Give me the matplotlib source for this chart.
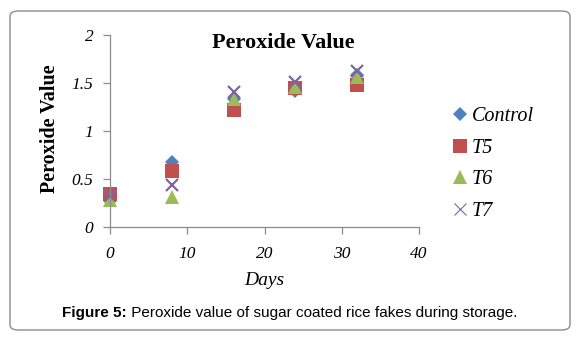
import matplotlib
matplotlib.use("Agg")
import matplotlib.pyplot as plt
from matplotlib.patches import FancyBboxPatch
from matplotlib.lines import Line2D

days = [0, 8, 16, 24, 32]
control = [0.33, 0.68, 1.33, 1.42, 1.58]
t5 = [0.34, 0.58, 1.22, 1.45, 1.48]
t6 = [0.28, 0.31, 1.33, 1.46, 1.56]
t7 = [0.32, 0.44, 1.41, 1.51, 1.63]
series_names = ["Control", "T5", "T6", "T7"]
x_ticks = [0, 10, 20, 30, 40]
y_ticks = [0, 0.5, 1, 1.5, 2]
y_tick_labels = ["0", "0.5", "1", "1.5", "2"]

W, H = 580, 337
fig = plt.figure(figsize=(W / 100, H / 100), dpi=100)
serif = "Liberation Serif"

# outer rounded frame
frame = FancyBboxPatch((10 / W, 1 - 330 / H), 560 / W, 319 / H,
                       boxstyle="round,pad=0,rounding_size=0.015",
                       transform=fig.transFigure, facecolor="none",
                       edgecolor="#8c8c8c", linewidth=1.0, zorder=-1)
fig.patches.append(frame)

ax = fig.add_axes([110 / W, 1 - 227 / H, (419 - 110) / W, (227 - 35) / H])
ax.set_facecolor("none")
ax.set_zorder(2)

styles = [
    (control, "D", "#4F81BD", 7.5),
    (t5, "s", "#C0504D", 9.5),
    (t6, "^", "#9BBB59", 10),
    (t7, "x", "#8064A2", 9),
]
handles = []
for (vals, m, c, s), name in zip(styles, series_names):
    kw = dict(marker=m, color=c, linestyle="none", markersize=s)
    if m == "x":
        kw.update(markeredgewidth=1.6)
    else:
        kw.update(markeredgewidth=0)
    ax.plot(days, vals, clip_on=False, **kw)
    hk = dict(kw)
    if m == "x":
        hk.update(markeredgewidth=0.8)
    handles.append(Line2D([], [], **hk))

ax.set_xlim(0, 40)
ax.set_ylim(0, 2)
ax.set_xticks(x_ticks)
ax.set_yticks(y_ticks)
ax.set_yticklabels(y_tick_labels)
for sp in ["top", "right"]:
    ax.spines[sp].set_visible(False)
for sp in ["left", "bottom"]:
    ax.spines[sp].set_color("#8c8c8c")
    ax.spines[sp].set_linewidth(0.9)
ax.tick_params(direction="out", length=5, width=0.9, color="#8c8c8c",
               labelsize=12.5)
ax.tick_params(axis="x", pad=9)
ax.tick_params(axis="y", pad=7)
for lab in ax.get_xticklabels() + ax.get_yticklabels():
    lab.set_fontfamily(serif)
    lab.set_fontstyle("italic")

ax.set_xlabel("Days", fontfamily=serif, fontstyle="italic", fontsize=14, labelpad=7)
fig.text(50 / W, 1 - 129 / H, "Peroxide Value", rotation=90, ha="center", va="center",
         fontfamily=serif, fontweight="bold", fontsize=14.5)
fig.text(283 / W, 1 - 43 / H, "Peroxide Value", ha="center", va="center",
         fontfamily=serif, fontweight="bold", fontsize=16)

leg = fig.legend(handles, series_names, loc="upper left",
                 bbox_to_anchor=(454 / W, 1 - 107 / H), frameon=False,
                 prop={"family": serif, "style": "italic", "size": 14.5},
                 handlelength=0.6, handletextpad=0.3, labelspacing=0.62,
                 borderaxespad=0, borderpad=0)

t1 = fig.text(0, 0, "Figure 5:", fontfamily="Liberation Sans", fontweight="bold", fontsize=11)
t2 = fig.text(0, 0, " Peroxide value of sugar coated rice fakes during storage.",
              fontfamily="Liberation Sans", fontsize=11)
fig.canvas.draw()
r = fig.canvas.get_renderer()
w1 = t1.get_window_extent(r).width
w2 = t2.get_window_extent(r).width
x0 = 290 - (w1 + w2) / 2
yc = 1 - 313 / H
t1.set_position((x0 / W, yc)); t1.set_va("center")
t2.set_position(((x0 + w1) / W, yc)); t2.set_va("center")

fig.savefig("out.png", dpi=100)
